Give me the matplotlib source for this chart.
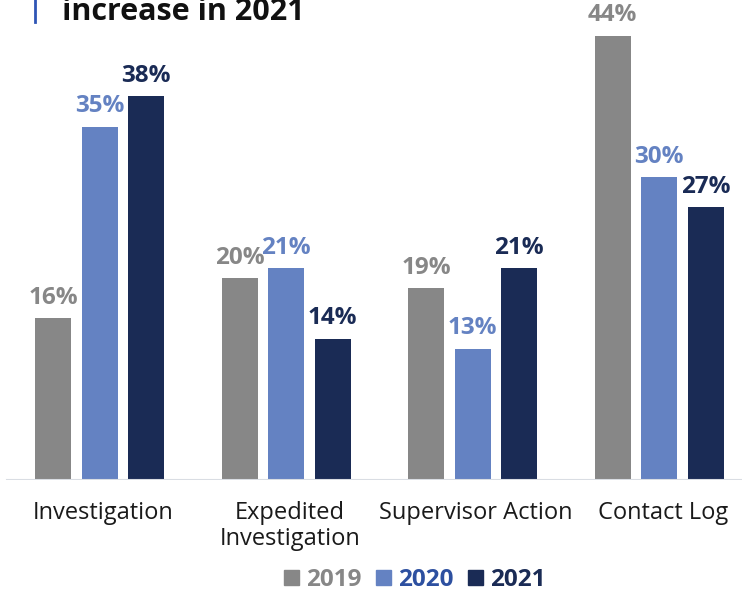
import matplotlib.pyplot as plt
from matplotlib.patches import Patch
import numpy as np

plt.rcParams['font.family'] = ['Open Sans', 'DejaVu Sans']

categories = ["Investigation", "Expedited\nInvestigation", "Supervisor Action", "Contact Log"]
years = ["2019", "2020", "2021"]
v2019 = [16, 20, 19, 44]
v2020 = [35, 21, 13, 30]
v2021 = [38, 14, 21, 27]

bar_colors = ["#878787", "#6482c2", "#1a2b55"]
label_colors = ["#878787", "#6482c2", "#1a2b55"]
legend_colors = ["#878787", "#2d50a0", "#1a2b55"]

fig = plt.figure(figsize=(7.42, 5.93), dpi=100)
ax = fig.add_axes([0, 113 / 593, 1, 480 / 593])

x = np.arange(len(categories))
step = 186.5
width = 36 / step
offset = 46.5 / step

for i, (vals, col, lcol) in enumerate(zip([v2019, v2020, v2021], bar_colors, label_colors)):
    xs = x + (i - 1) * offset
    ax.bar(xs, vals, width=width, color=col, zorder=2)
    for xi, v in zip(xs, vals):
        ax.annotate(f"{v}%", (xi, v), xytext=(0, 6), textcoords="offset points",
                    ha="center", va="bottom", fontsize=17.5, fontweight="bold", color=lcol)

ax.set_xlim(-99.5 / step, (742 - 99.5) / step)
ax.set_ylim(0, 480 / 10.1)
ax.axhline(0, xmin=7 / 742, xmax=1, color="#d9dde3", lw=1.5, zorder=3)
for s in ax.spines.values():
    s.set_visible(False)
ax.set_yticks([])
ax.set_xticks(x + 0.02)
ax.set_xticklabels(categories, fontsize=17, color="#1a1a1a", linespacing=1.1)
ax.tick_params(axis="x", length=0, pad=15)

# heading line and accent bar
fig.text(62 / 742, 1 - 20 / 593, "increase in 2021", fontsize=22, fontweight="bold",
         color="#111111", va="baseline", ha="left")
fig.add_artist(plt.Line2D([35 / 742, 35 / 742], [1 - 22 / 593, 1], color="#2f55b5", lw=2))

handles = [Patch(color=c) for c in bar_colors]
leg = fig.legend(handles, years, loc="center", bbox_to_anchor=(415 / 742, 1 - 580 / 593),
                 ncol=3, frameon=False, handlelength=0.6, handleheight=0.6,
                 handletextpad=0.3, columnspacing=0.6, fontsize=17.5)
for t, c in zip(leg.get_texts(), legend_colors):
    t.set_color(c)
    t.set_fontweight("bold")

fig.savefig("out.png", dpi=100)
